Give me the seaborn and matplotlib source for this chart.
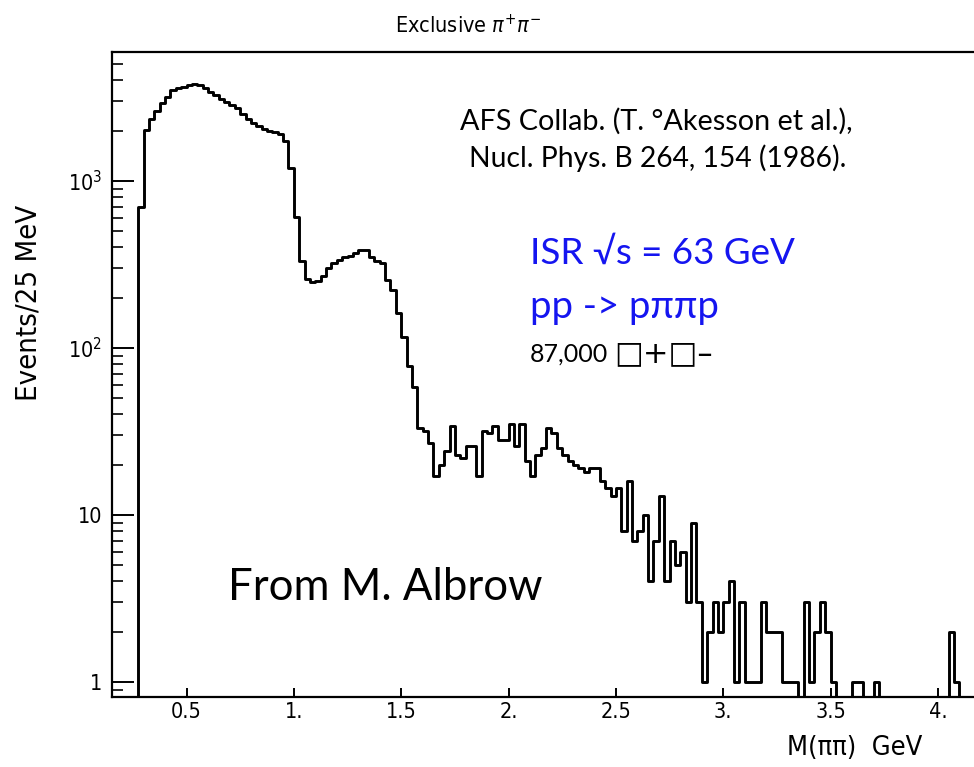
import numpy as np
import pandas as pd
import matplotlib
matplotlib.use("Agg")
import matplotlib.pyplot as plt
import seaborn as sns
from matplotlib import font_manager

# ---------------- data ----------------
bin_start = 0.25
bin_width = 0.025
counts = [
    0,                                                           # 0.250
    700, 2020, 2340, 2640, 2920, 3200, 3480, 3580, 3650, 3750,   # 0.275 - 0.500
    3800, 3750, 3600, 3420, 3250, 3100, 2950, 2840, 2720, 2500,  # 0.525 - 0.750
    2340, 2230, 2130, 2050, 2000, 1970, 1920, 1730, 1190, 605,   # 0.775 - 1.000
    330, 258, 248, 252, 268, 300, 322, 338, 348, 355,            # 1.025 - 1.250
    370, 385, 385, 348, 330, 322, 255, 222, 162, 116,            # 1.275 - 1.500
    78, 58, 33, 32, 27, 17, 20, 24, 34, 23,                      # 1.525 - 1.750
    22, 26, 26, 17, 32, 31, 34, 28, 28, 35,                      # 1.775 - 2.000
    26, 35, 21, 17, 23, 25, 33, 31, 25, 23,                      # 2.025 - 2.250
    21, 20, 19, 18, 19, 19, 16, 14.5, 13, 14.5,                  # 2.275 - 2.500
    8, 16, 7, 8, 10, 4, 7, 13, 4, 7,                             # 2.525 - 2.750
    5, 6, 3, 9, 3, 1, 2, 3, 2, 3,                                # 2.775 - 3.000
    4, 1, 3, 1, 1, 1, 3, 2, 2, 2,                                # 3.025 - 3.250
    1, 1, 1, 0, 3, 1, 2, 3, 2, 1,                                # 3.275 - 3.500
    0, 0, 0, 1, 1, 0, 0, 1, 0, 0,                                # 3.525 - 3.750
    0, 0, 0, 0, 0, 0, 0, 0, 0, 0,                                # 3.775 - 4.000
    0, 2, 1, 0,                                                  # 4.025 - 4.100
]
x_ticks = [0.5, 1.0, 1.5, 2.0, 2.5, 3.0, 3.5, 4.0]
x_tick_labels = ["0.5", "1.", "1.5", "2.", "2.5", "3.", "3.5", "4."]
y_ticks = [1, 10, 100, 1000]
y_tick_labels = ["1", "10", r"$10^2$", r"$10^3$"]

n = len(counts)
edges = [bin_start + bin_width * i for i in range(n + 1)]
centers = [e + bin_width / 2 for e in edges[:-1]]
df = pd.DataFrame({"mass": centers, "events": counts})

# ---------------- fonts ----------------
available = {f.name for f in font_manager.fontManager.ttflist}
note_font = "Lato" if "Lato" in available else "DejaVu Sans"

# ---------------- figure ----------------
sns.set_theme(style="ticks")
plt.rcParams["font.family"] = ["DejaVu Sans"]
plt.rcParams["font.stretch"] = "condensed"
plt.rcParams["mathtext.fontset"] = "dejavusans"

W, H = 974, 767
fig = plt.figure(figsize=(W / 100, H / 100), dpi=100)
fig.patch.set_facecolor("white")

left_px, right_px, top_px, bottom_px = 112, 1000, 52, 696.5
ax = fig.add_axes([left_px / W, 1 - bottom_px / H,
                   (right_px - left_px) / W, (bottom_px - top_px) / H])
ax.set_facecolor("white")

sns.histplot(data=df, x="mass", weights="events", bins=edges,
             element="step", fill=False, color="black", linewidth=2.1,
             ax=ax)
ax.set_yscale("log")

x0 = 0.5 + (left_px - 186.5) / 214.7
x1 = 0.5 + (right_px - 186.5) / 214.7
ax.set_xlim(x0, x1)
ax.set_ylim(10 ** (-0.087), 10 ** 3.772)

for s in ax.spines.values():
    s.set_linewidth(1.6)
    s.set_color("black")

ax.set_xticks(x_ticks)
ax.set_xticklabels(x_tick_labels)
ax.set_yticks(y_ticks)
ax.set_yticklabels(y_tick_labels)
ax.yaxis.set_minor_locator(matplotlib.ticker.LogLocator(base=10, subs=np.arange(2, 10)))
ax.yaxis.set_minor_formatter(matplotlib.ticker.NullFormatter())

ax.tick_params(axis="x", which="major", direction="in", length=6.5, width=1.4,
               pad=4, labelsize=15.5, colors="black")
ax.tick_params(axis="y", which="major", direction="in", length=16, width=1.4,
               pad=7, labelsize=15.5, colors="black")
ax.tick_params(axis="y", which="minor", direction="in", length=8, width=1.4)

ax.set_xlabel("")
ax.set_ylabel("")

# axis labels & title (as in the original plot)
fig.text(29 / W, 1 - 303 / H, "Events/25 MeV", rotation=90, ha="center",
         va="center", fontsize=21, color="black")
fig.text(855 / W, 1 - 748 / H, "M(ππ)  GeV", ha="center", va="center",
         fontsize=19.5, color="black")
fig.text(468 / W, 1 - 25 / H, r"Exclusive $\pi^{+}\pi^{-}$", ha="center",
         va="center", fontsize=15.5, color="black")

# annotations
fig.text(656 / W, 1 - 121 / H, "AFS Collab. (T. °Akesson et al.),", ha="center",
         va="center", fontsize=20.7, family=note_font, fontstretch="normal",
         color="black")
fig.text(658 / W, 1 - 158 / H, "Nucl. Phys. B 264, 154 (1986).", ha="center",
         va="center", fontsize=20.3, family=note_font, fontstretch="normal",
         color="black")
fig.text(530 / W, 1 - 253 / H, "ISR √s = 63 GeV", ha="left", va="center",
         fontsize=26.5, family=note_font, fontstretch="normal", color="#1515f0")
fig.text(530 / W, 1 - 307 / H, "pp -> pππp", ha="left", va="center",
         fontsize=27.5, family=note_font, fontstretch="normal", color="#1515f0")
fig.text(530 / W, 1 - 354 / H, "87,000", ha="left", va="center",
         fontsize=18, family=note_font, fontstretch="normal", color="black")
fig.text(614 / W, 1 - 354 / H, "□+□–", ha="left", va="center",
         fontsize=22, family="DejaVu Sans", fontstretch="normal", color="black")
fig.text(228 / W, 1 - 588 / H, "From M. Albrow", ha="left", va="center",
         fontsize=31.5, family=note_font, fontstretch="normal", color="black")

fig.savefig("out.png", dpi=100, facecolor="white")
